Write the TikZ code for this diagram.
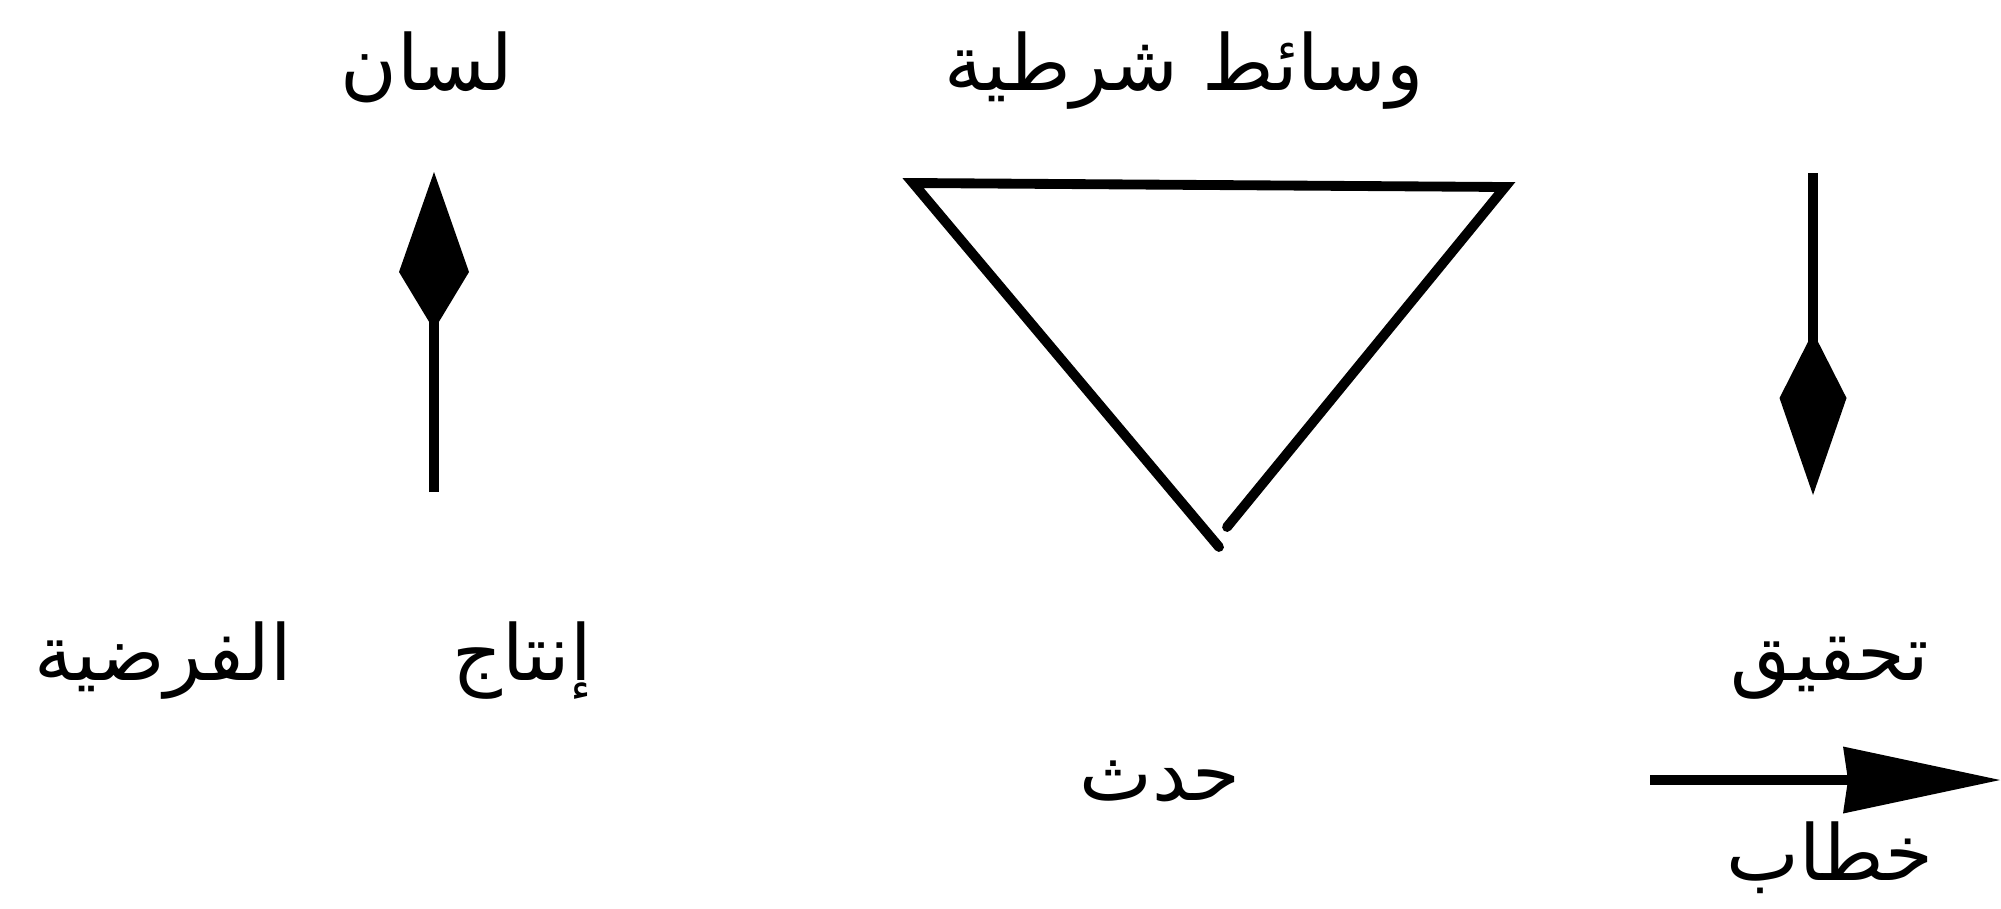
\documentclass[tikz,border=0pt]{standalone}
\usepackage{fontspec}
\usepackage{tikz}
\usetikzlibrary{arrows.meta}
\newfontfamily\arabicfont[Script=Arabic]{DejaVu Sans}
\TeXXeTstate=1
\definecolor{sketchInk}{HTML}{000000}
\newcommand{\artext}[1]{\beginR#1\endR}

\begin{document}
\begin{tikzpicture}[
  term/.style={font=\arabicfont\fontsize{22}{26}\selectfont, text=sketchInk,
    inner sep=0pt, anchor=base},
  upKite/.style={-{Kite[length=15.8mm, width=7mm, inset=5.8mm, line width=0pt]},
    line width=3pt, draw=sketchInk},
  downKite/.style={-{Kite[length=16.3mm, width=6.7mm, inset=6.6mm, line width=0pt]},
    line width=3pt, draw=sketchInk},
  flatArrow/.style={-{Stealth[length=15.7mm, width=6.7mm, inset=0.5mm, line width=0pt]},
    line width=3pt, draw=sketchInk},
  cone/.style={line width=2.8pt, draw=sketchInk, line cap=round, line join=miter}
]
\useasboundingbox (0,0) rectangle (20.01,9.08);
\node[term] (lisan) at (4.27,8.18) {\artext{لسان}};
\node[term] (wasait) at (11.84,8.18) {\artext{وسائط شرطية}};
\node[term] (fardiya) at (1.63,2.28) {\artext{الفرضية}};
\node[term] (intaj) at (5.22,2.28) {\artext{إنتاج}};
\node[term] (tahqiq) at (18.30,2.28) {\artext{تحقيق}};
\node[term] (hadath) at (11.60,1.08) {\artext{حدث}};
\node[term] (khitab) at (18.30,0.28) {\artext{خطاب}};
\coordinate (lisanFoot) at (4.34,4.16);
\coordinate (lisanTip) at (4.34,7.36);
\coordinate (tahqiqTop) at (18.13,7.35);
\coordinate (tahqiqTip) at (18.13,4.13);
\coordinate (khitabTail) at (16.50,1.28);
\coordinate (khitabTip) at (20.00,1.28);
\coordinate (coneRight) at (12.27,3.81);
\coordinate (coneTopRight) at (15.05,7.21);
\coordinate (coneTopLeft) at (9.13,7.25);
\coordinate (coneLeft) at (12.19,3.61);
\draw[upKite] (lisanFoot) -- (lisanTip);
\draw[downKite] (tahqiqTop) -- (tahqiqTip);
\draw[flatArrow] (khitabTail) -- (khitabTip);
\draw[cone] (coneRight) -- (coneTopRight) -- (coneTopLeft) -- (coneLeft);
\end{tikzpicture}
\end{document}
